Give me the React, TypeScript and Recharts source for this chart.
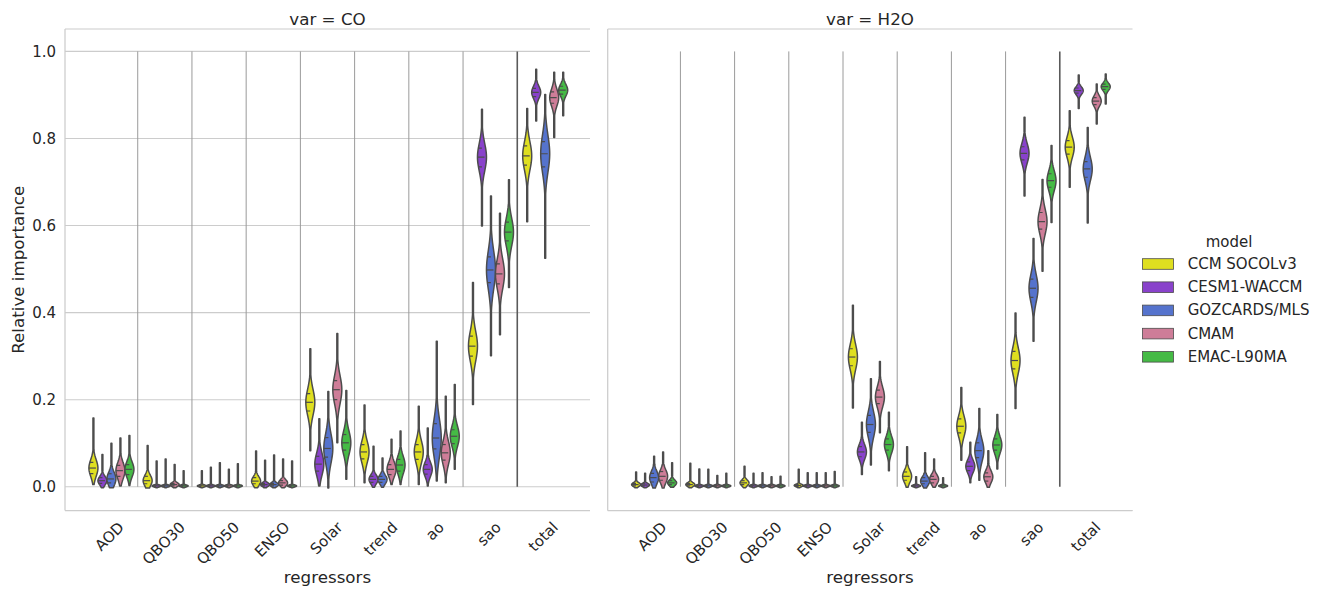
import React from 'react';
import { ComposedChart, Bar, XAxis, YAxis, CartesianGrid, ReferenceLine, Legend } from 'recharts';

const REGRESSORS = ['AOD', 'QBO30', 'QBO50', 'ENSO', 'Solar', 'trend', 'ao', 'sao', 'total'];
const MODELS = ['CCM SOCOLv3', 'CESM1-WACCM', 'GOZCARDS/MLS', 'CMAM', 'EMAC-L90MA'];
const MODEL_KEYS = ['socol', 'waccm', 'goz', 'cmam', 'emac'];
const COLORS = ['#dfdf20', '#8942cb', '#5573cd', '#ce7d98', '#45ba45'];
const Y_TICKS = [0, 0.2, 0.4, 0.6, 0.8, 1.0];
const PANELS = ['CO', 'H2O'];

// each violin: [min, q1, median, q3, max]
const CO_SOCOL = [
  [0.005, 0.030, 0.043, 0.056, 0.158], [-0.003, 0.007, 0.014, 0.024, 0.095], [-0.002, 0.001, 0.002, 0.004, 0.037],
  [-0.002, 0.007, 0.013, 0.021, 0.082], [0.083, 0.174, 0.194, 0.214, 0.317], [0.009, 0.064, 0.080, 0.097, 0.188],
  [0.005, 0.063, 0.080, 0.097, 0.185], [0.189, 0.300, 0.323, 0.346, 0.469], [0.609, 0.739, 0.760, 0.783, 0.869],
];
const CO_WACCM = [
  [-0.002, 0.008, 0.014, 0.021, 0.074], [-0.002, 0.001, 0.002, 0.004, 0.059], [-0.002, 0.001, 0.002, 0.004, 0.045],
  [-0.002, 0.002, 0.005, 0.008, 0.061], [0.002, 0.036, 0.052, 0.070, 0.156], [-0.001, 0.010, 0.017, 0.024, 0.093],
  [0.002, 0.029, 0.040, 0.051, 0.135], [0.599, 0.735, 0.757, 0.778, 0.867], [0.840, 0.896, 0.906, 0.915, 0.959],
];
const CO_GOZ = [
  [-0.002, 0.009, 0.018, 0.030, 0.100], [-0.002, 0.001, 0.002, 0.004, 0.064], [-0.002, 0.001, 0.002, 0.004, 0.055],
  [-0.002, 0.002, 0.005, 0.008, 0.073], [-0.003, 0.068, 0.088, 0.113, 0.219], [-0.001, 0.010, 0.017, 0.024, 0.066],
  [0.013, 0.087, 0.112, 0.145, 0.334], [0.301, 0.469, 0.498, 0.528, 0.668], [0.525, 0.735, 0.765, 0.793, 0.901],
];
const CO_CMAM = [
  [0.002, 0.024, 0.037, 0.049, 0.112], [-0.002, 0.002, 0.005, 0.008, 0.051], [-0.002, 0.001, 0.002, 0.004, 0.040],
  [-0.002, 0.004, 0.009, 0.014, 0.064], [0.101, 0.200, 0.223, 0.244, 0.352], [0.005, 0.028, 0.040, 0.051, 0.109],
  [0.009, 0.061, 0.078, 0.097, 0.208], [0.349, 0.466, 0.489, 0.512, 0.628], [0.802, 0.881, 0.894, 0.907, 0.952],
];
const CO_EMAC = [
  [0.003, 0.028, 0.040, 0.051, 0.118], [-0.002, 0.001, 0.002, 0.004, 0.037], [-0.002, 0.001, 0.002, 0.004, 0.053],
  [-0.002, 0.001, 0.002, 0.004, 0.059], [0.017, 0.084, 0.101, 0.120, 0.221], [0.005, 0.036, 0.050, 0.063, 0.128],
  [0.040, 0.099, 0.116, 0.131, 0.235], [0.458, 0.565, 0.585, 0.608, 0.705], [0.852, 0.902, 0.911, 0.920, 0.952],
];

const H2O_SOCOL = [
  [-0.002, 0.002, 0.005, 0.008, 0.034], [-0.002, 0.002, 0.005, 0.008, 0.054], [-0.002, 0.005, 0.009, 0.014, 0.047],
  [-0.002, 0.001, 0.003, 0.005, 0.040], [0.181, 0.278, 0.298, 0.317, 0.417], [-0.001, 0.015, 0.024, 0.034, 0.092],
  [0.061, 0.124, 0.139, 0.156, 0.228], [0.180, 0.271, 0.290, 0.311, 0.399], [0.688, 0.764, 0.780, 0.795, 0.864],
];
const H2O_WACCM = [
  [-0.002, 0.002, 0.004, 0.007, 0.031], [-0.002, 0.001, 0.002, 0.004, 0.041], [-0.002, 0.001, 0.002, 0.004, 0.031],
  [-0.002, 0.001, 0.002, 0.004, 0.032], [0.028, 0.069, 0.080, 0.092, 0.148], [-0.002, 0.001, 0.002, 0.004, 0.023],
  [0.009, 0.037, 0.047, 0.057, 0.102], [0.668, 0.751, 0.766, 0.781, 0.849], [0.869, 0.904, 0.910, 0.916, 0.946],
];
const H2O_GOZ = [
  [-0.003, 0.011, 0.021, 0.031, 0.070], [-0.002, 0.001, 0.002, 0.004, 0.040], [-0.002, 0.001, 0.002, 0.004, 0.032],
  [-0.002, 0.001, 0.002, 0.004, 0.032], [0.050, 0.125, 0.143, 0.164, 0.248], [-0.003, 0.007, 0.013, 0.021, 0.078],
  [0.015, 0.067, 0.083, 0.101, 0.180], [0.334, 0.435, 0.456, 0.477, 0.570], [0.606, 0.711, 0.730, 0.747, 0.825],
];
const H2O_CMAM = [
  [-0.003, 0.015, 0.024, 0.035, 0.080], [-0.002, 0.001, 0.002, 0.004, 0.026], [-0.002, 0.001, 0.002, 0.004, 0.023],
  [-0.002, 0.001, 0.002, 0.004, 0.032], [0.124, 0.191, 0.206, 0.222, 0.288], [-0.001, 0.009, 0.017, 0.024, 0.064],
  [-0.001, 0.013, 0.023, 0.032, 0.083], [0.495, 0.592, 0.609, 0.630, 0.706], [0.833, 0.878, 0.886, 0.894, 0.925],
];
const H2O_EMAC = [
  [-0.001, 0.005, 0.009, 0.014, 0.055], [-0.002, 0.001, 0.002, 0.004, 0.031], [-0.002, 0.001, 0.002, 0.004, 0.024],
  [-0.002, 0.001, 0.002, 0.004, 0.035], [0.037, 0.084, 0.097, 0.110, 0.171], [-0.002, 0.001, 0.002, 0.004, 0.021],
  [0.041, 0.084, 0.096, 0.110, 0.166], [0.607, 0.688, 0.703, 0.719, 0.784], [0.879, 0.913, 0.919, 0.925, 0.948],
];

const PANEL_SETS = [
  [CO_SOCOL, CO_WACCM, CO_GOZ, CO_CMAM, CO_EMAC],
  [H2O_SOCOL, H2O_WACCM, H2O_GOZ, H2O_CMAM, H2O_EMAC],
];

const FONT = '"DejaVu Sans", sans-serif';
const TEXT = '#262626';
const LINE = '#4c4c4c';
const SPINE = '#cccccc';
const X_PAD = 18.5;
const PLOT_W = 525;
const Y_DOMAIN: [number, number] = [-0.0545, 1.0515];

function buildRows(sets: number[][][]) {
  return REGRESSORS.map((r, i) => {
    const row: any = { reg: r, pos: i };
    MODEL_KEYS.forEach((k, j) => {
      const s = sets[j][i];
      row[k] = [s[0], s[4]];
      row[k + 'Stats'] = s;
    });
    return row;
  });
}

let _canvas: HTMLCanvasElement | null = null;
function measure(text: string, size: number) {
  if (!_canvas) _canvas = document.createElement('canvas');
  const ctx = _canvas.getContext('2d');
  if (!ctx) return text.length * size * 0.62;
  ctx.font = `${size}px "DejaVu Sans"`;
  return ctx.measureText(text).width;
}

function Violin(props: any) {
  const { x, y, width, height, st, color } = props;
  if (!st || x == null || y == null) return null;
  const [lo, q1, med, q3, hi] = st;
  const top = Math.min(y, y + height);
  const bot = Math.max(y, y + height);
  const span = hi - lo || 1e-6;
  const py = (v: number) => bot - ((v - lo) / span) * (bot - top);
  const cx = x + width / 2;
  const H = width / 2;
  const s = Math.max((q3 - q1) / 1.349, 1e-4);
  const hw = (v: number) => Math.max(H * Math.exp(-0.5 * ((v - med) / s) ** 2), 0.45);
  const vs: number[] = [];
  const N = 120;
  for (let i = 0; i <= N; i++) vs.push(lo + (span * i) / N);
  vs.push(med);
  vs.sort((a, b) => a - b);
  const right = vs.map((v) => `${(cx + hw(v)).toFixed(2)},${py(v).toFixed(2)}`);
  const left = vs.slice().reverse().map((v) => `${(cx - hw(v)).toFixed(2)},${py(v).toFixed(2)}`);
  const d = `M${right.join('L')}L${left.join('L')}Z`;
  const qline = (v: number, dash: string, key: string) => (
    <line key={key} x1={cx - hw(v)} x2={cx + hw(v)} y1={py(v)} y2={py(v)} stroke={LINE} strokeWidth={1.2} strokeDasharray={dash} />
  );
  return (
    <g>
      <path d={d} fill={color} stroke={LINE} strokeWidth={1.5} strokeLinejoin="round" />
      {qline(q1, '3.5 3.5', 'q1')}
      {qline(med, '7 7', 'm')}
      {qline(q3, '3.5 3.5', 'q3')}
    </g>
  );
}

function XTick(props: any) {
  const { x, y, payload } = props;
  const label = String(payload.value);
  const fs = 15;
  const w = measure(label, fs);
  const h = fs * 1.164;
  const bb = (w + h) * Math.SQRT1_2;
  const cy = y + 8 + bb / 2;
  const cx = x - 1;
  return (
    <text x={cx} y={cy} transform={`rotate(-45 ${cx} ${cy})`} textAnchor="middle" dominantBaseline="central"
      fontSize={fs} fill={TEXT} fontFamily={FONT}>{label}</text>
  );
}

function LegendContent() {
  return (
    <svg width={190} height={140} style={{ overflow: 'visible' }}>
      <text x={88} y={12.7} textAnchor="middle" dominantBaseline="central" fontSize={15} fill={TEXT} fontFamily={FONT}>model</text>
      {MODELS.map((m, i) => (
        <g key={m}>
          <rect x={1.5} y={35 + i * 23.2 - 5.3} width={31} height={10.6} fill={COLORS[i]} stroke={LINE} strokeWidth={0.8} />
          <text x={46.7} y={35 + i * 23.2} dominantBaseline="central" fontSize={15} fill={TEXT} fontFamily={FONT}>{m}</text>
        </g>
      ))}
    </svg>
  );
}

function Panel({ idx }: { idx: number }) {
  const rows = buildRows(PANEL_SETS[idx]);
  const first = idx === 0;
  const width = first ? 600 : 728;
  const marginRight = first ? 10 : 195.5;
  const boundaries = REGRESSORS.slice(1).map((_, i) => i + 0.5);
  // the hidden numeric axis puts category i at the centre of its band
  const halfBand = (PLOT_W - 2 * X_PAD) / REGRESSORS.length / 2;
  return (
    <ComposedChart width={width} height={594} data={rows}
      margin={{ top: 29, right: marginRight, bottom: 0, left: 0 }}
      barCategoryGap="10%" barGap={0}>
      <CartesianGrid horizontal vertical={false} stroke={SPINE} strokeWidth={1.1} />
      <XAxis dataKey="reg" type="category" interval={0} padding={{ left: X_PAD, right: X_PAD }}
        height={83.5} tickLine={false} tickSize={0} tickMargin={0}
        axisLine={{ stroke: SPINE, strokeWidth: 1.25 }} tick={<XTick />} />
      <XAxis xAxisId="n" dataKey="pos" type="number" domain={['dataMin', 'dataMax']}
        padding={{ left: X_PAD + halfBand, right: X_PAD + halfBand }} hide />
      <YAxis type="number" domain={Y_DOMAIN} ticks={Y_TICKS} allowDataOverflow
        width={first ? 65 : 7.7} tickLine={false} tickSize={0} tickMargin={9}
        axisLine={{ stroke: SPINE, strokeWidth: 1.25 }}
        tick={first ? { fontSize: 15, fill: TEXT, fontFamily: FONT } : false}
        tickFormatter={(v: number) => v.toFixed(1)} />
      {boundaries.map((b, i) => (
        <ReferenceLine key={b} xAxisId="n" segment={[{ x: b, y: 0 }, { x: b, y: 1 }]}
          stroke={i === boundaries.length - 1 ? '#5a5a5a' : '#9a9a9a'}
          strokeWidth={i === boundaries.length - 1 ? 1.6 : 1} ifOverflow="visible" />
      ))}
      {MODEL_KEYS.map((k, j) => (
        <Bar key={k} dataKey={k} name={MODELS[j]} fill={COLORS[j]} isAnimationActive={false}
          shape={(p: any) => {
            const st = (p.payload && p.payload[k + 'Stats']) || (rows[p.index] && rows[p.index][k + 'Stats']);
            return <Violin {...p} st={st} color={COLORS[j]} />;
          }} />
      ))}
      {!first && (
        <Legend layout="horizontal" verticalAlign="middle" align="center" content={<LegendContent />}
          wrapperStyle={{ position: 'absolute', left: 541, top: 229, width: 190, height: 140 }} />
      )}
    </ComposedChart>
  );
}

export default function App() {
  const centers = [327.5, 870];
  return (
    <div style={{ position: 'absolute', left: 0, top: 0, width: 1328, height: 594, background: '#fff', fontFamily: FONT }}>
      <div style={{ position: 'absolute', left: 0, top: 0 }}><Panel idx={0} /></div>
      <div style={{ position: 'absolute', left: 600, top: 0 }}><Panel idx={1} /></div>
      <svg width={1328} height={594} style={{ position: 'absolute', left: 0, top: 0, pointerEvents: 'none' }}>
        {PANELS.map((p, i) => (
          <g key={p}>
            <text x={centers[i]} y={25} textAnchor="middle" fontSize={16.7} fill={TEXT} fontFamily={FONT}>{`var = ${p}`}</text>
            <text x={centers[i]} y={582.5} textAnchor="middle" fontSize={16.7} fill={TEXT} fontFamily={FONT}>regressors</text>
          </g>
        ))}
        <text x={24.5} y={269.8} transform="rotate(-90 24.5 269.8)" textAnchor="middle" fontSize={16.7} fill={TEXT} fontFamily={FONT}>Relative importance</text>
      </svg>
    </div>
  );
}
